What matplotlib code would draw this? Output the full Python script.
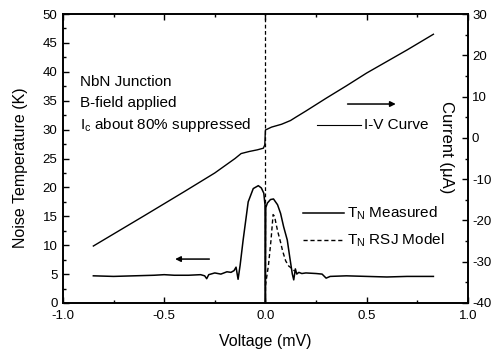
import numpy as np
import matplotlib
matplotlib.use("Agg")
import matplotlib.pyplot as plt
from matplotlib.ticker import MultipleLocator, FormatStrFormatter

plt.rcParams['font.family'] = ['Liberation Sans', 'DejaVu Sans']
plt.rcParams['axes.unicode_minus'] = False

# --- data ---
# I-V curve (voltage in mV, current in uA, right axis)
iv_v = [-0.85, -0.6, -0.4, -0.25, -0.15, -0.12, -0.08, -0.04, -0.01, -0.003,
        0.0, 0.03, 0.08, 0.124, 0.15, 0.2, 0.3, 0.4, 0.5, 0.6, 0.7, 0.83]
iv_i = [-26.2, -18.9, -13.0, -8.5, -5.0, -3.8, -3.3, -2.9, -2.5, -1.7,
        1.9, 2.6, 3.3, 4.2, 5.0, 6.5, 9.6, 12.6, 15.7, 18.5, 21.3, 25.1]

# measured noise temperature (K)
tn_v = [-0.85, -0.75, -0.65, -0.55, -0.5, -0.45, -0.38, -0.32, -0.3, -0.29,
        -0.28, -0.25, -0.22, -0.19, -0.17, -0.155, -0.145, -0.135, -0.125,
        -0.11, -0.085, -0.06, -0.035, -0.02, -0.008, -0.002, 0.0, 0.002,
        0.01, 0.025, 0.04, 0.06, 0.075, 0.09, 0.108, 0.12, 0.133, 0.14,
        0.148, 0.155, 0.165, 0.18, 0.2, 0.25, 0.28, 0.3, 0.32, 0.4, 0.5,
        0.6, 0.7, 0.83]
tn_meas = [4.7, 4.6, 4.7, 4.8, 4.9, 4.8, 4.8, 4.9, 4.7, 4.2,
           4.9, 5.2, 5.0, 5.4, 5.3, 5.6, 6.2, 4.1, 6.5,
           10.9, 17.5, 19.8, 20.3, 19.9, 19.0, 17.0, 0.0, 16.5,
           17.3, 17.9, 18.0, 17.0, 15.5, 13.2, 10.9, 8.0, 5.0, 4.0,
           5.9, 5.0, 5.3, 5.1, 5.2, 5.1, 5.0, 4.3, 4.6, 4.7, 4.6,
           4.5, 4.6, 4.6]

# RSJ model noise temperature (K)
rsj_v = [0.0, 0.015, 0.028, 0.038, 0.045, 0.06, 0.075, 0.085, 0.1, 0.115,
         0.13, 0.145]
rsj_tn = [3.0, 6.5, 11.0, 15.3, 15.0, 12.5, 10.5, 9.0, 7.3, 6.4,
          6.0, 5.5]

fig = plt.figure(figsize=(4.94, 3.55), dpi=100)
ax = fig.add_axes([0.1275, 0.1465, 0.8195, 0.814])
ax2 = ax.twinx()

ax.plot(tn_v, tn_meas, color='black', lw=1.1)
ax.plot(rsj_v, rsj_tn, color='black', lw=1.0, ls=(0, (3, 2)))
ax.axvline(0.0, color='black', lw=0.9, ls=(0, (3, 2)))
ax2.plot(iv_v, iv_i, color='black', lw=1.0)

ax.set_xlim(-1.0, 1.0)
ax.set_ylim(0, 50)
ax2.set_ylim(-40, 30)

ax.xaxis.set_major_locator(MultipleLocator(0.5))
ax.xaxis.set_minor_locator(MultipleLocator(0.25))
ax.xaxis.set_major_formatter(FormatStrFormatter('%.1f'))
ax.yaxis.set_major_locator(MultipleLocator(5))
ax.yaxis.set_minor_locator(MultipleLocator(2.5))
ax2.yaxis.set_major_locator(MultipleLocator(10))
ax2.yaxis.set_minor_locator(MultipleLocator(5))

ax.tick_params(axis='x', which='both', direction='in', top=True, labelsize=9.5, pad=5)
ax.tick_params(axis='y', which='both', direction='in', labelsize=9.5, pad=4)
ax.tick_params(which='major', length=4, width=1)
ax.tick_params(which='minor', length=2.5, width=1)
ax2.tick_params(which='both', direction='in', labelsize=9.5, pad=3)
ax2.tick_params(which='major', length=4, width=1)
ax2.tick_params(which='minor', length=2.5, width=1)

for a in (ax, ax2):
    for s in a.spines.values():
        s.set_linewidth(1.2)

ax.set_xlabel('Voltage (mV)', fontsize=11.5, labelpad=9)
ax.set_ylabel('Noise Temperature (K)', fontsize=11.5)
ax.yaxis.set_label_coords(-0.086, 0.467)
ax2.text(0.948, 0.54, 'Current (\u03bcA)', transform=ax2.transAxes, rotation=270,
         ha='center', va='center', fontsize=12)

# annotations
ax.text(-0.915, 38.2, 'NbN Junction', fontsize=11, va='center')
ax.text(-0.915, 34.6, 'B-field applied', fontsize=11, va='center')
ax.text(-0.915, 30.8, r'I$_\mathregular{c}$ about 80% suppressed', fontsize=11, va='center')

ax.plot([0.257, 0.47], [30.8, 30.8], color='black', lw=0.8)
ax.text(0.485, 30.8, 'I-V Curve', fontsize=11, va='center')
ax.plot([0.188, 0.386], [15.6, 15.6], color='black', lw=1.1)
ax.text(0.405, 15.6, r'T$_\mathregular{N}$ Measured', fontsize=11, va='center')
ax.plot([0.188, 0.386], [10.9, 10.9], color='black', lw=1.0, ls=(0, (3, 2)))
ax.text(0.405, 10.9, r'T$_\mathregular{N}$ RSJ Model', fontsize=11, va='center')

# arrows pointing to the relevant axes
ax.annotate('', xy=(-0.446, 7.6), xytext=(-0.277, 7.6),
            arrowprops=dict(arrowstyle='-|>', color='black', lw=1.1,
                            mutation_scale=8, shrinkA=0, shrinkB=0))
ax2.annotate('', xy=(0.644, 8.2), xytext=(0.406, 8.2),
             arrowprops=dict(arrowstyle='-|>', color='black', lw=1.1,
                             mutation_scale=8, shrinkA=0, shrinkB=0))

fig.savefig('out.png', dpi=100)
